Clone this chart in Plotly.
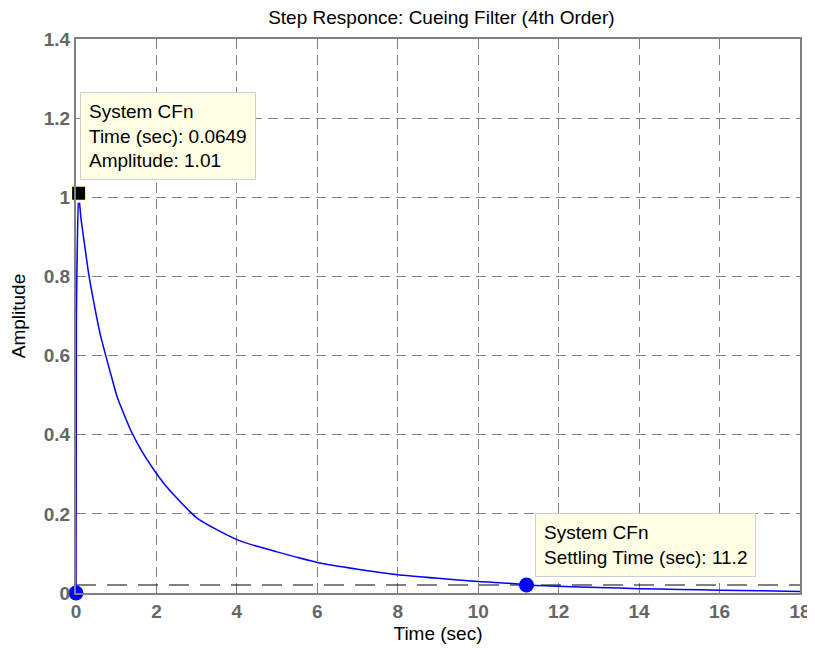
import plotly.graph_objects as go

# Step response samples
time_s = [0, 0.01, 0.0649, 0.12, 0.2, 0.31, 0.47, 0.6, 0.74, 0.9, 1.01, 1.2, 1.39, 1.6,
          1.8, 2.0, 2.2, 2.46, 2.84, 3.0, 3.5, 4, 4.5, 5, 5.5, 6, 7, 8, 9, 10, 11, 11.2,
          12, 13, 14, 15, 16, 17, 18]
amplitude = [0, 0.7, 1.01, 0.95, 0.89, 0.81, 0.72, 0.655, 0.6, 0.54, 0.5, 0.45, 0.405, 0.365,
             0.332, 0.302, 0.275, 0.245, 0.205, 0.19, 0.16, 0.135, 0.118, 0.104, 0.09, 0.077,
             0.06, 0.046, 0.037, 0.029, 0.023, 0.0202, 0.017, 0.014, 0.011, 0.009, 0.007,
             0.006, 0.004]

peak_time = 0.0649
peak_amp = 1.01
settling_time = 11.2
settling_level = 0.0202
x_ticks = [0, 2, 4, 6, 8, 10, 12, 14, 16, 18]
y_ticks = [0, 0.2, 0.4, 0.6, 0.8, 1, 1.2, 1.4]
y_tick_text = ["0", "0.2", "0.4", "0.6", "0.8", "1", "1.2", "1.4"]

FONT = "Arial, Liberation Sans, sans-serif"

fig = go.Figure()

# settling band line
fig.add_trace(go.Scatter(
    x=[x_ticks[0], x_ticks[-1]], y=[settling_level, settling_level],
    mode="lines", line=dict(color="black", width=1, dash="20px,11px"),
    hoverinfo="skip", showlegend=False))

# response curve
fig.add_trace(go.Scatter(
    x=time_s, y=amplitude, mode="lines", line_shape="spline",
    line=dict(color="#0000FF", width=1.5, smoothing=0.5), showlegend=False))

# blue characteristic markers
fig.add_trace(go.Scatter(
    x=[0, settling_time], y=[0, settling_level], mode="markers",
    marker=dict(color="#0000FF", size=15, symbol="circle"),
    cliponaxis=False, showlegend=False))

# peak data tip marker
fig.add_trace(go.Scatter(
    x=[peak_time], y=[peak_amp], mode="markers",
    marker=dict(color="black", size=16, symbol="square",
                line=dict(color="#FFFFE0", width=3)),
    cliponaxis=False, showlegend=False))

box = dict(bgcolor="#FFFFE6", bordercolor="#CFCFCF", borderwidth=1,
           borderpad=8, align="left", showarrow=False,
           font=dict(family=FONT, size=19, color="black"),
           xanchor="left", yanchor="top")

fig.add_annotation(x=0.1, y=1.265,
                   text="System CFn<br>Time (sec): 0.0649<br>Amplitude: 1.01", **box)
fig.add_annotation(x=11.41, y=0.203,
                   text="System CFn<br>Settling Time (sec): 11.2", **box)

axis_common = dict(
    showgrid=True, gridcolor="#808080", gridwidth=1, griddash="10px,6px",
    showline=True, linecolor="#808080", linewidth=2, mirror=True,
    zeroline=False, ticks="", automargin=False,
    tickfont=dict(family=FONT, size=19, color="#666666", weight="bold"),
)

# page body adds an 8px offset, so the figure is sized to fit the window
fig.update_layout(
    width=807, height=646,
    margin=dict(l=68, r=15, t=31, b=61),
    paper_bgcolor="white", plot_bgcolor="white",
    title=dict(text="Step Responce: Cueing Filter (4th Order)",
               font=dict(family=FONT, size=19, color="black"),
               x=0.537, xanchor="center", y=0.985, yanchor="middle",
               automargin=False),
    xaxis=dict(range=[0, 18], tickvals=x_ticks,
               title=dict(text="Time (sec)", standoff=6,
                          font=dict(family=FONT, size=19, color="black")),
               **axis_common),
    yaxis=dict(range=[0, 1.4], tickvals=y_ticks, ticktext=y_tick_text,
               title=dict(text="Amplitude", standoff=14,
                          font=dict(family=FONT, size=19, color="black")),
               **axis_common),
)

fig.write_html("out.html")
